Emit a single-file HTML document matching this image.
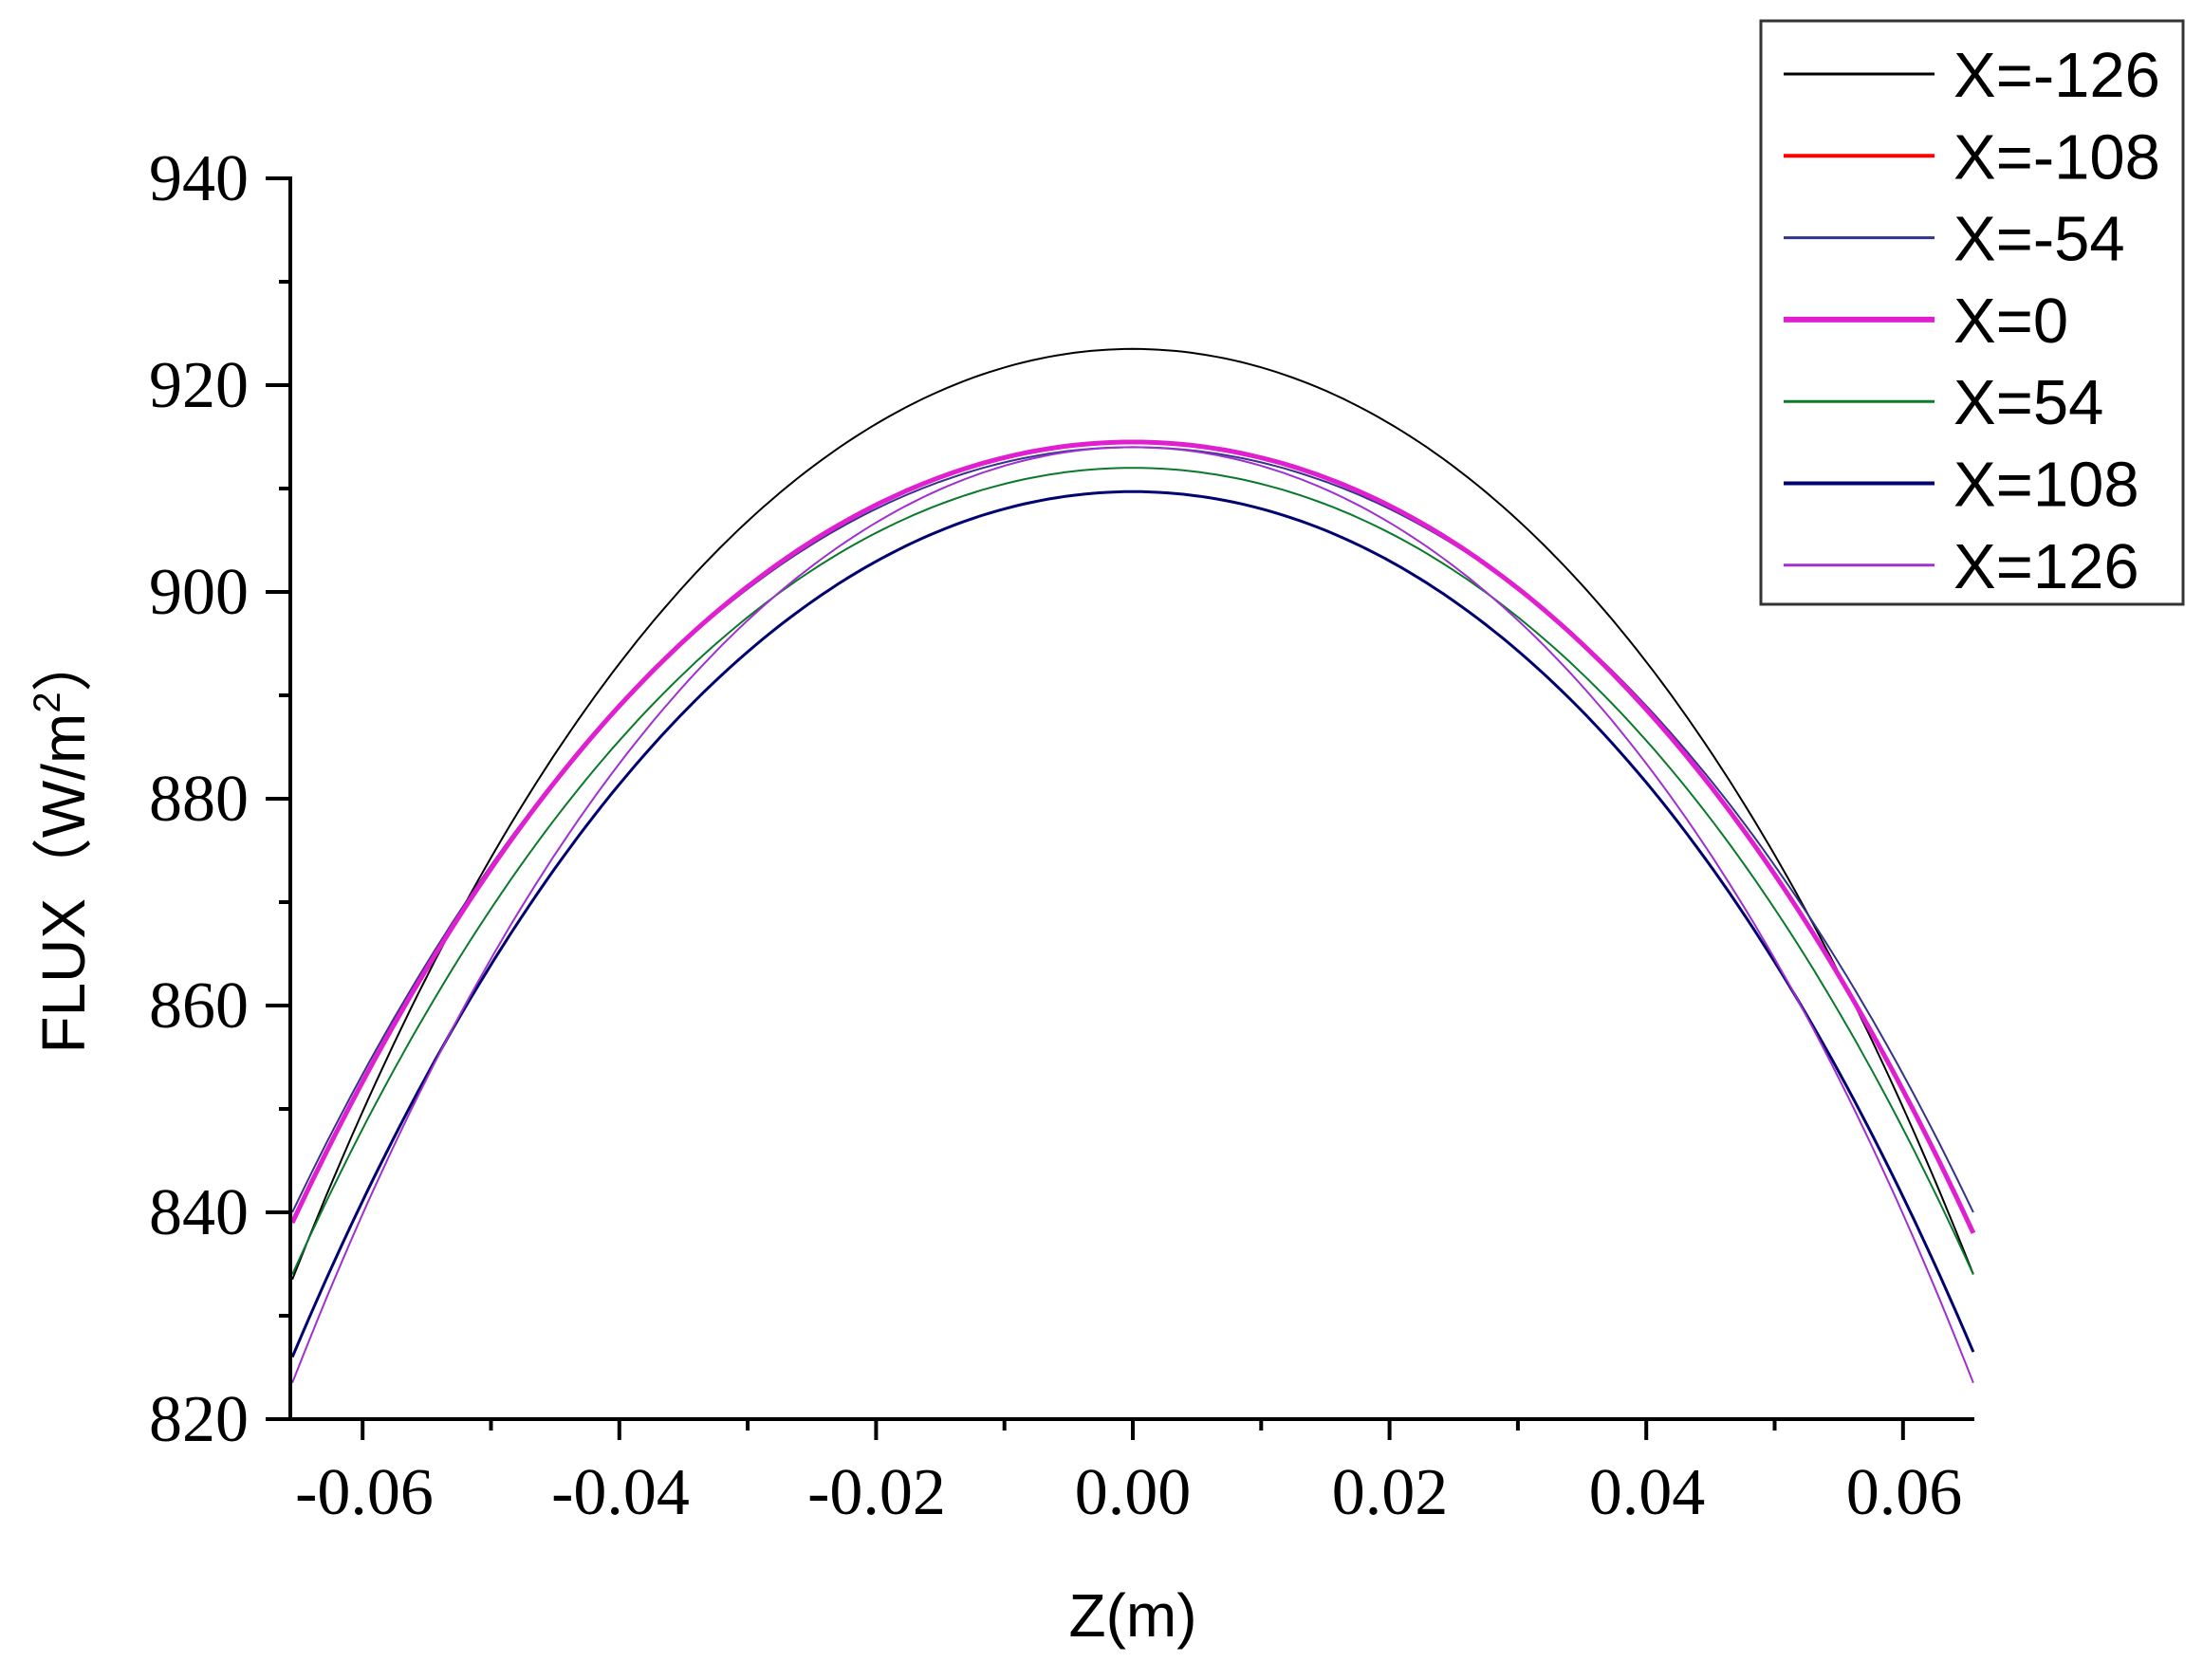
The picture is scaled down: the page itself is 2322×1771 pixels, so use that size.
<!DOCTYPE html>
<html><head><meta charset="utf-8"><style>html,body{margin:0;padding:0;background:#fff}svg{display:block}</style></head>
<body>
<svg id="s" width="2322" height="1771" viewBox="0 0 2322 1771" xmlns="http://www.w3.org/2000/svg">
<rect width="2322" height="1771" fill="#fff"/>
<g id="curves"></g>
<g stroke="#000" stroke-width="4" fill="none">
<line x1="306" y1="186" x2="306" y2="1498"/>
<line x1="304" y1="1496" x2="2081" y2="1496"/>
</g>
<g id="ticks" stroke="#000" stroke-width="4"></g>
<g font-family="Liberation Serif, serif" font-size="70" fill="#000" text-anchor="end">
<text x="262" y="211">940</text>
<text x="262" y="429">920</text>
<text x="262" y="647">900</text>
<text x="262" y="865">880</text>
<text x="262" y="1083">860</text>
<text x="262" y="1301">840</text>
<text x="262" y="1519">820</text>
</g>
<g font-family="Liberation Serif, serif" font-size="70" fill="#000" text-anchor="middle">
<text x="384" y="1596">-0.06</text>
<text x="654" y="1596">-0.04</text>
<text x="924" y="1596">-0.02</text>
<text x="1194" y="1596">0.00</text>
<text x="1465" y="1596">0.02</text>
<text x="1736" y="1596">0.04</text>
<text x="2007" y="1596">0.06</text>
</g>
<text x="1194" y="1725" font-family="Liberation Sans, sans-serif" font-size="64" text-anchor="middle">Z(m)</text>
<text transform="translate(89,888) rotate(-90)" font-family="Liberation Sans, 'Noto Sans CJK SC', sans-serif" font-size="64" text-anchor="middle" textLength="445" lengthAdjust="spacingAndGlyphs">FLUX（W/m<tspan font-size="40" dy="-26">2</tspan><tspan dy="26">）</tspan></text>
<rect x="1856" y="22" width="445" height="615" fill="#fff" stroke="#333" stroke-width="3"/>
<g id="leg" font-family="Liberation Sans, sans-serif" font-size="67" fill="#000"></g>
</svg>
<script>
var ns="http://www.w3.org/2000/svg";
function el(p,t,a,txt){var e=document.createElementNS(ns,t);for(var k in a)e.setAttribute(k,a[k]);if(txt)e.textContent=txt;p.appendChild(e);return e;}
var tk=document.getElementById('ticks');
for(var v=820;v<=940;v+=10){var y=1496-(v-820)*10.9;var L=(v%20==0)?26:12;el(tk,'line',{x1:306-L,y1:y,x2:306,y2:y});}
for(var i=-6;i<=6;i++){var x=1194+i*135.3;var L=(i%2==0)?22:12;el(tk,'line',{x1:x,y1:1496,x2:x,y2:1496+L});}
var X=function(z){return 1194+z*13525;},Y=function(v){return 1496-(v-820)*10.9;};
var ser=[
 ['#000',2,923.5,833.5,834],
 ['#f00',3,914.5,839,838],
 ['#33338a',2,914,840,840],
 ['#e020d0',5,914.5,839,838],
 ['#0a7a2a',2,912,834,834],
 ['#000070',3,909.7,826,826.5],
 ['#a030d0',2,914,823.5,823.5]
];
var cg=document.getElementById('curves');
ser.forEach(function(s){
 var d='';
 for(var k=0;k<=200;k++){var z=-0.0655+k*0.131/200;var u=z/0.0655;var D=z<0?s[2]-s[3]:s[2]-s[4];
  var v=s[2]-D*(0.85*u*u+0.15*u*u*u*u);
  d+=(k?'L':'M')+X(z).toFixed(1)+' '+Y(v).toFixed(1);}
 el(cg,'path',{d:d,stroke:s[0],'stroke-width':s[1],fill:'none'});
});
var lg=document.getElementById('leg');
var names=['X=-126','X=-108','X=-54','X=0','X=54','X=108','X=126'];
for(var i=0;i<7;i++){var y=78+i*86.3;
 el(lg,'line',{x1:1880,y1:y,x2:2039,y2:y,stroke:ser[i][0],'stroke-width':ser[i][1]+1});
 el(lg,'text',{x:2059,y:y+24},names[i]);}
</script>
</body></html>
